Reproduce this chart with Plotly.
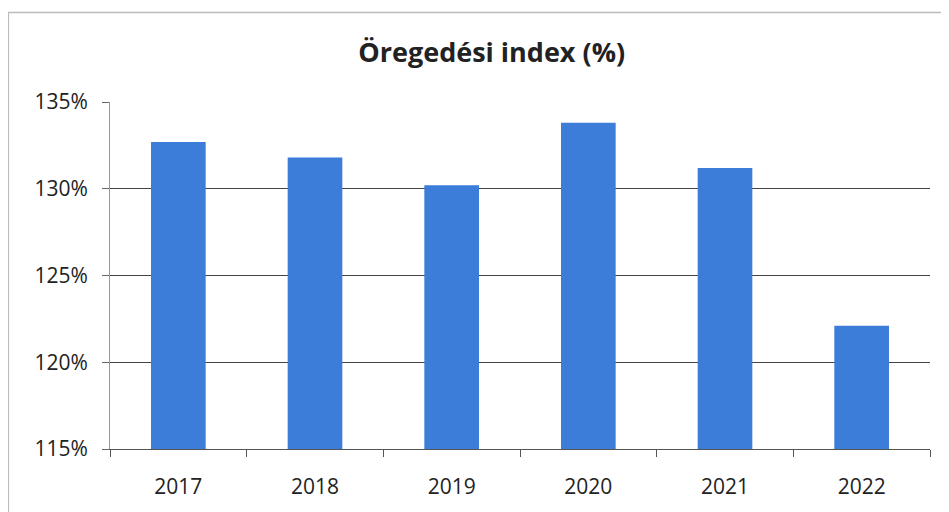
import plotly.graph_objects as go

# Öregedési index évenként
years = ["2017", "2018", "2019", "2020", "2021", "2022"]
index_pct = [132.7, 131.8, 130.2, 133.8, 131.2, 122.1]
y_ticks = [115, 120, 125, 130, 135]
y_labels = ["115%", "120%", "125%", "130%", "135%"]

fig = go.Figure()
fig.add_bar(
    x=years,
    y=index_pct,
    marker=dict(color="#3b7dd8", line=dict(width=0)),
)

# a böngésző 8px-es body margója miatt a méretek 8px-el kisebbek
fig.update_layout(
    width=941,
    height=504,
    margin=dict(l=102, r=19, t=94, b=61),
    paper_bgcolor="white",
    plot_bgcolor="white",
    bargap=0.6,
    showlegend=False,
    font=dict(family="Open Sans, Liberation Sans, sans-serif", size=21, color="#222"),
    title=dict(
        text="<b>Öregedési index (%)</b>",
        x=0.514, xanchor="center",
        y=0.911, yanchor="middle",
        font=dict(size=27, color="#222"),
    ),
)

fig.update_yaxes(
    range=[115, 135],
    tickvals=y_ticks,
    ticktext=y_labels,
    showgrid=True,
    gridcolor="#444",
    gridwidth=1,
    showline=True,
    linecolor="#999",
    ticks="outside",
    ticklen=7,
    tickcolor="#666",
    ticklabelstandoff=10,
    zeroline=False,
)
fig.update_xaxes(
    showline=True,
    linecolor="#555",
    ticks="outside",
    tickson="boundaries",
    ticklen=7,
    tickcolor="#555",
    ticklabelstandoff=19,
    showgrid=False,
)

# keret a diagram körül
fig.add_shape(
    type="rect", xref="paper", yref="paper",
    x0=-0.124, x1=1.02, y0=-0.2, y1=1.258,
    line=dict(color="#bbb", width=1.5),
)

fig.write_html("out.html")
